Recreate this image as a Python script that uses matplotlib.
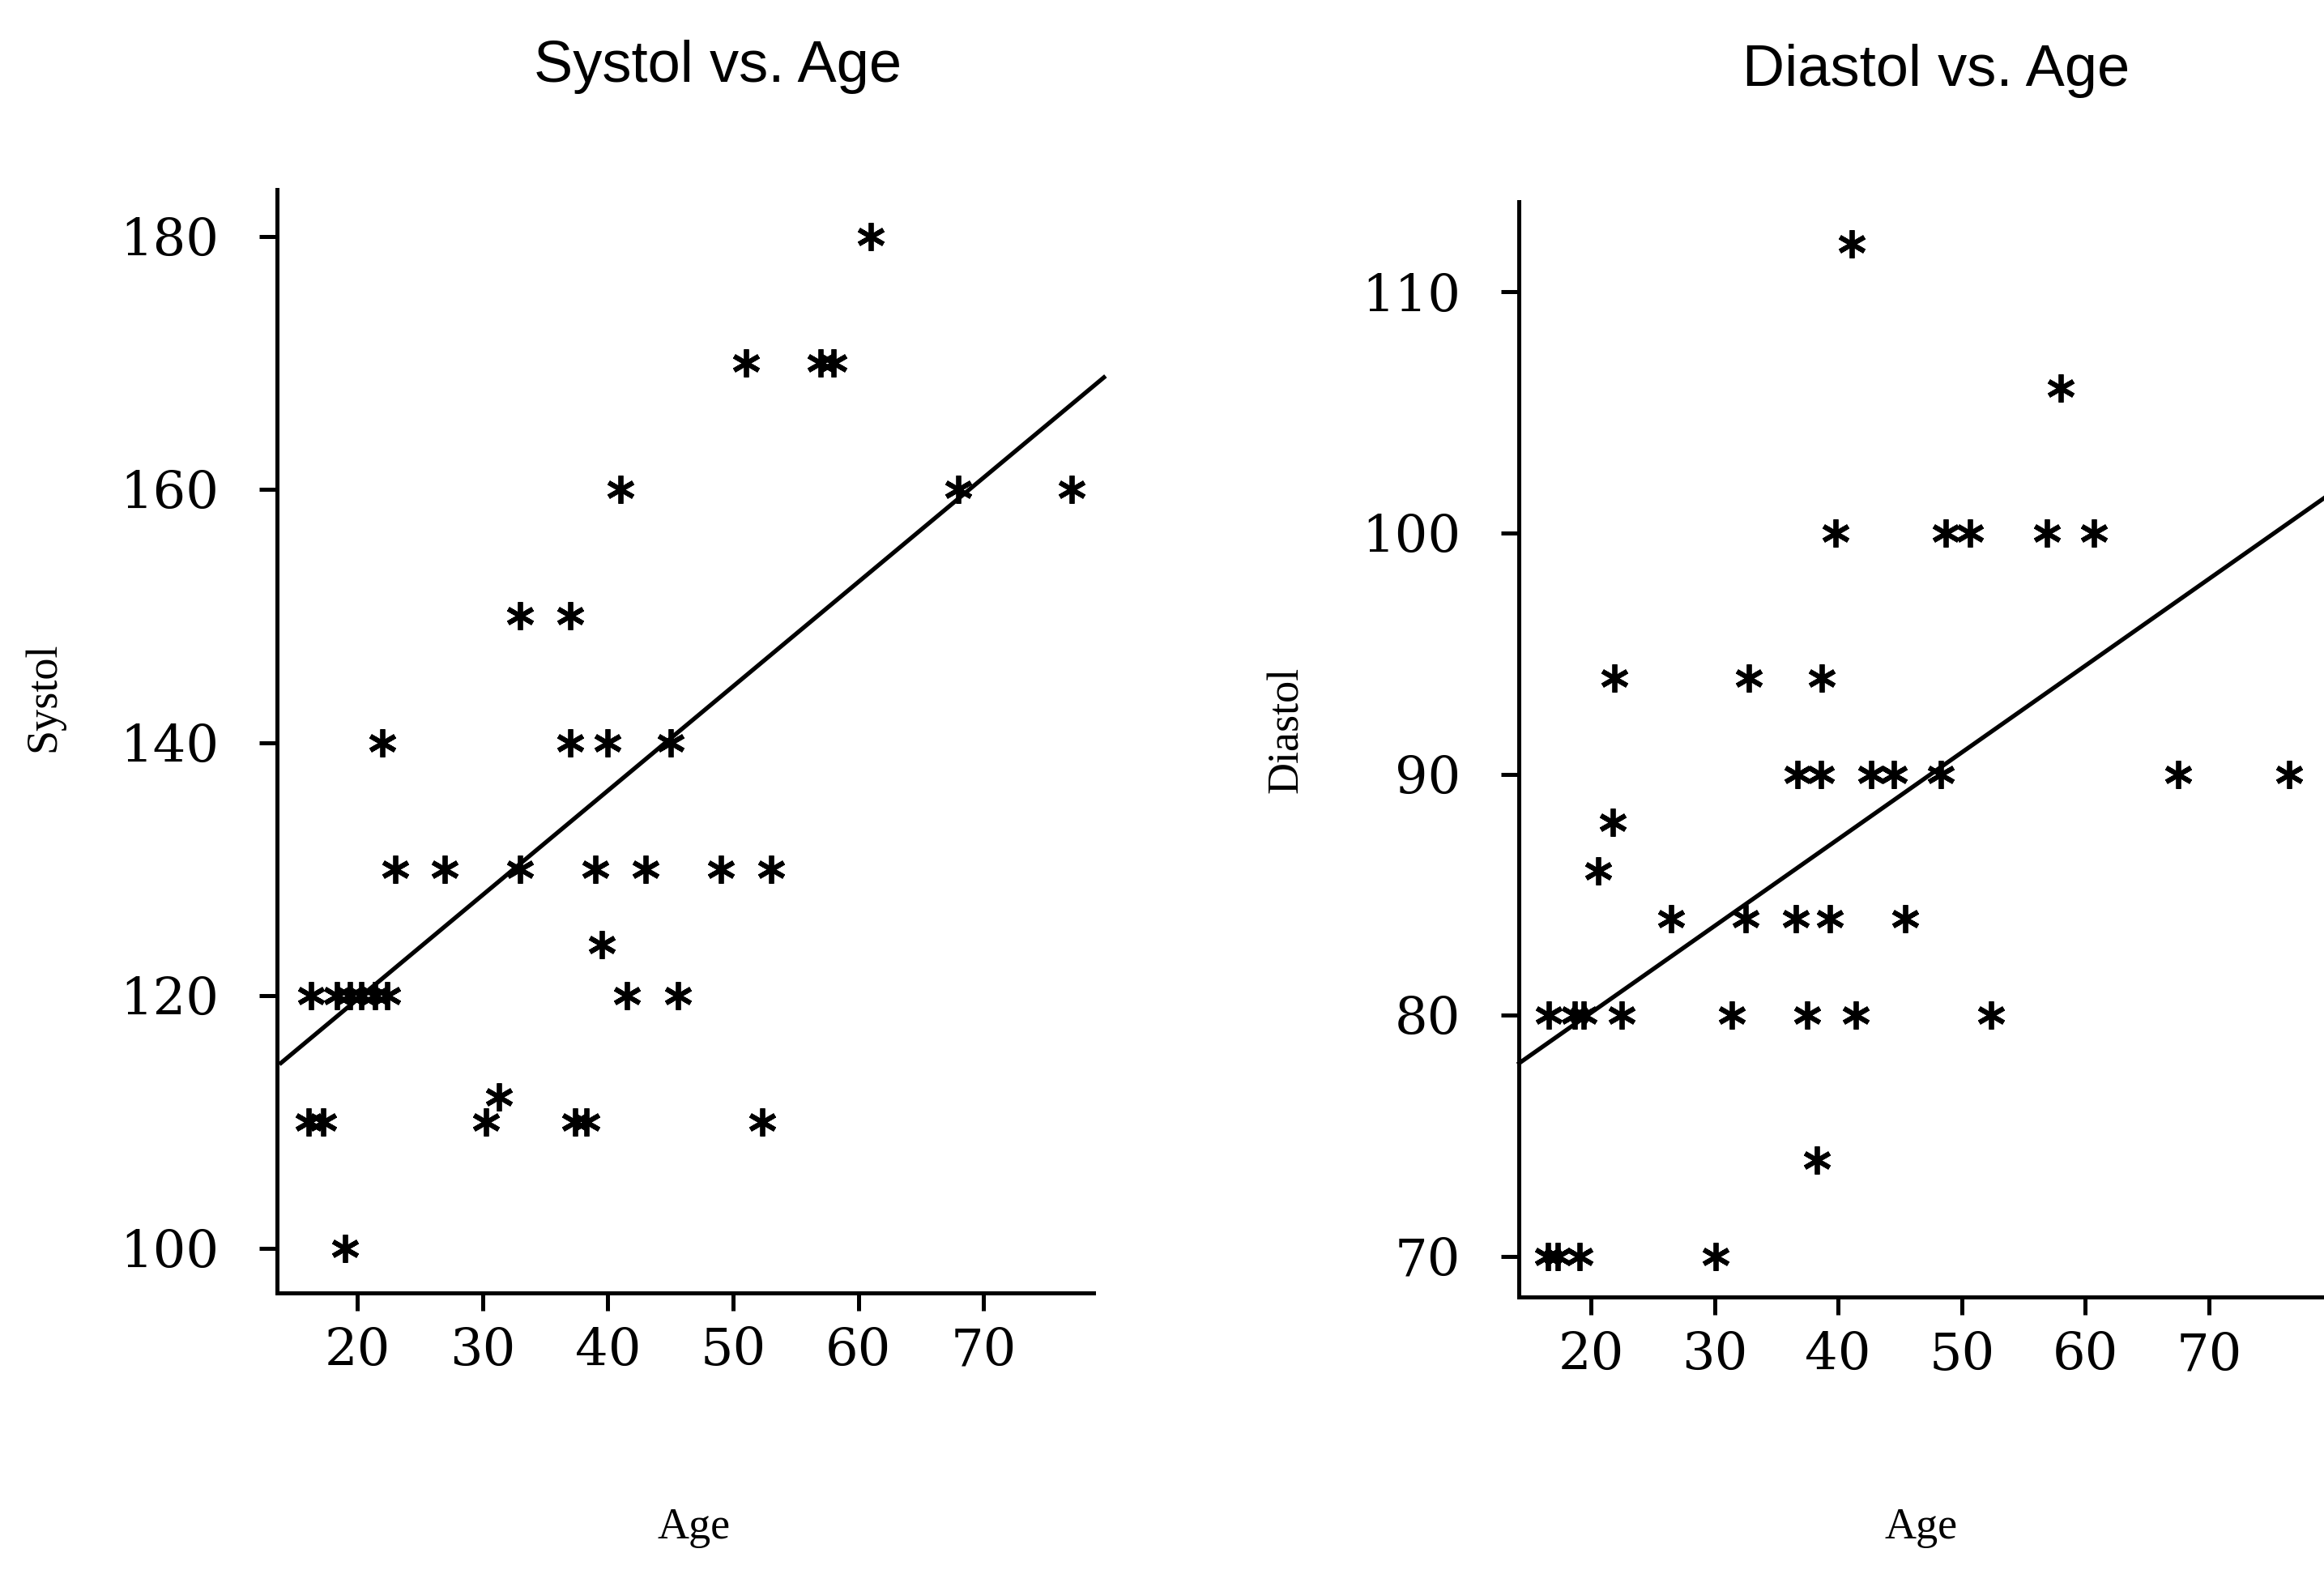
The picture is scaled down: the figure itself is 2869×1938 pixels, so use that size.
import matplotlib
matplotlib.use("Agg")
import matplotlib.pyplot as plt
import numpy as np

# ---- data ----
age_systol = [61, 51, 57, 58, 41, 68, 77, 33, 37,
              22, 37, 40, 45,
              23, 27, 33, 39, 43, 49, 53,
              39.5,
              16.3, 18.4, 19.4, 20.3, 21.4, 22.4, 41.5, 45.6,
              31.3,
              16.1, 17.3, 30.3, 37.4, 38.3, 52.3,
              19]
systol = [180, 170, 170, 170, 160, 160, 160, 150, 150,
          140, 140, 140, 140,
          130, 130, 130, 130, 130, 130, 130,
          124,
          120, 120, 120, 120, 120, 120, 120, 120,
          112,
          110, 110, 110, 110, 110, 110,
          100]

age_diastol = [41.1, 58.0,
               39.8, 48.7, 50.7, 56.9, 60.7,
               21.9, 32.8, 38.7,
               36.7, 38.6, 42.7, 44.5, 48.3, 67.5, 76.5,
               21.8, 20.6,
               26.5, 32.5, 36.6, 39.3, 45.4,
               16.6, 18.7, 19.4, 22.5, 31.4, 37.5, 41.4, 52.4,
               38.3,
               16.5, 17.3, 19.1, 30.1]
diastol = [112, 106,
           100, 100, 100, 100, 100,
           94, 94, 94,
           90, 90, 90, 90, 90, 90, 90,
           88, 86,
           84, 84, 84, 84, 84,
           80, 80, 80, 80, 80, 80, 80, 80,
           74,
           70, 70, 70, 70]

# fitted lines: intercept, slope, age range drawn
systol_fit = (103.2, 0.825)
systol_fit_range = (13.9, 79.6)
diastol_fit = (72.9, 0.36)
diastol_fit_range = (14.2, 80.0)

age_ticks = [20, 30, 40, 50, 60, 70]
systol_ticks = [100, 120, 140, 160, 180]
diastol_ticks = [70, 80, 90, 100, 110]

plt.rcParams['font.family'] = 'DejaVu Serif'

fig = plt.figure(figsize=(28.69, 19.38), dpi=100)
fig.patch.set_facecolor('white')


def style_axes(ax):
    for s in ['top', 'right']:
        ax.spines[s].set_visible(False)
    for s in ['left', 'bottom']:
        ax.spines[s].set_linewidth(3.6)
    ax.tick_params(direction='out', length=16, width=3.6, labelsize=46)
    ax.tick_params(axis='x', pad=14)
    ax.tick_params(axis='y', pad=36)
    ax.set_facecolor('none')


def scatter_fit(ax, x, y, fit, frange):
    ax.plot(x, y, linestyle='none', marker=(6, 2, 0), ms=25, mew=4.2,
            color='black', clip_on=False)
    xs = np.array(frange)
    ax.plot(xs, fit[0] + fit[1] * xs, color='black', lw=3.8, clip_on=False)


# left panel
ax1 = fig.add_axes([0.1193, 0.1766, 0.3514, 0.7025])
scatter_fit(ax1, age_systol, systol, systol_fit, systol_fit_range)
ax1.set_xlim(13.6, 78.8)
ax1.set_ylim(96.5, 183.7)
ax1.set_xticks(age_ticks)
ax1.set_yticks(systol_ticks)
style_axes(ax1)

# right panel (runs off the right edge like the scan)
ax2 = fig.add_axes([0.6537, 0.1737, 0.35, 0.6979])
scatter_fit(ax2, age_diastol, diastol, diastol_fit, diastol_fit_range)
ax2.set_xlim(14.2, 80.0)
ax2.set_ylim(68.3, 113.75)
ax2.set_xticks(age_ticks)
ax2.set_yticks(diastol_ticks)
style_axes(ax2)

# titles and axis labels
fig.text(0.309, 0.9575, "Systol vs. Age", family='Liberation Sans',
         fontsize=52, ha='center', va='center')
fig.text(0.833, 0.955, "Diastol vs. Age", family='Liberation Sans',
         fontsize=52, ha='center', va='center')
fig.text(0.019, 0.556, "Systol", family='Liberation Serif', fontsize=39,
         rotation=90, ha='center', va='center')
fig.text(0.5536, 0.535, "Diastol", family='Liberation Serif', fontsize=39,
         rotation=90, ha='center', va='center')
fig.text(0.2985, 0.027, "Age", family='Liberation Serif', fontsize=39,
         ha='center', va='center')
fig.text(0.8265, 0.027, "Age", family='Liberation Serif', fontsize=39,
         ha='center', va='center')

fig.savefig("out.png", dpi=100, facecolor='white')
